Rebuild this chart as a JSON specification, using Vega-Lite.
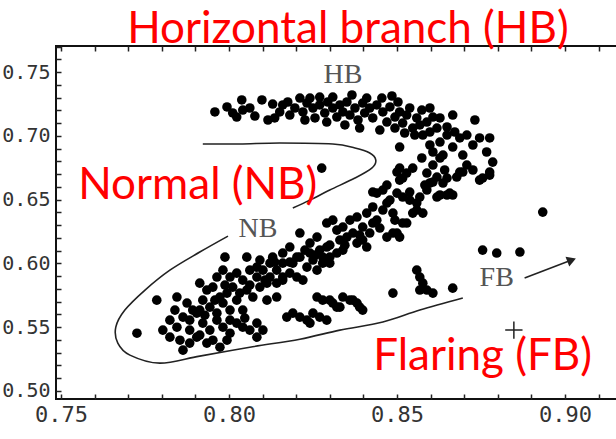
{
  "$schema": "https://vega.github.io/schema/vega-lite/v6.json",
  "width": 562,
  "height": 353,
  "autosize": {"type": "none"},
  "padding": {"left": 56, "top": 46, "right": 0, "bottom": 40},
  "background": "white",
  "config": {"view": {"stroke": "#111", "strokeWidth": 2}},
  "datasets": {
    "pts": [
      {"x":0.7958,"y":0.7187},{"x":0.8011,"y":0.7179},{"x":0.8023,"y":0.7147},{"x":0.8038,"y":0.7281},{"x":0.8041,"y":0.7202},{"x":0.8062,"y":0.7218},{"x":0.8098,"y":0.7281},{"x":0.8116,"y":0.7124},{"x":0.8151,"y":0.7187},{"x":0.8160,"y":0.7242},{"x":0.8175,"y":0.7265},{"x":0.8181,"y":0.7163},{"x":0.8196,"y":0.7218},{"x":0.8211,"y":0.7296},{"x":0.8220,"y":0.7187},{"x":0.8232,"y":0.7257},{"x":0.8241,"y":0.7296},{"x":0.8250,"y":0.7218},{"x":0.8256,"y":0.7140},{"x":0.8270,"y":0.7242},{"x":0.8285,"y":0.7179},{"x":0.8294,"y":0.7265},{"x":0.8309,"y":0.7218},{"x":0.8321,"y":0.7147},{"x":0.8330,"y":0.7242},{"x":0.8339,"y":0.7187},{"x":0.8351,"y":0.7265},{"x":0.8360,"y":0.7163},{"x":0.8375,"y":0.7218},{"x":0.8384,"y":0.7124},{"x":0.8398,"y":0.7257},{"x":0.8404,"y":0.7179},{"x":0.8419,"y":0.7218},{"x":0.8428,"y":0.7140},{"x":0.8440,"y":0.7242},{"x":0.8455,"y":0.7296},{"x":0.8458,"y":0.7187},{"x":0.8470,"y":0.7108},{"x":0.8479,"y":0.7226},{"x":0.8494,"y":0.7147},{"x":0.8503,"y":0.7265},{"x":0.8508,"y":0.7187},{"x":0.8517,"y":0.7100},{"x":0.8529,"y":0.7163},{"x":0.8538,"y":0.7218},{"x":0.8547,"y":0.7061},{"x":0.8559,"y":0.7140},{"x":0.8568,"y":0.7085},{"x":0.8574,"y":0.7202},{"x":0.8589,"y":0.7108},{"x":0.8598,"y":0.7218},{"x":0.8607,"y":0.7147},{"x":0.8619,"y":0.7061},{"x":0.8628,"y":0.7140},{"x":0.8649,"y":0.7069},{"x":0.8666,"y":0.7163},{"x":0.8672,"y":0.7030},
      {"x":0.8136,"y":0.7140},{"x":0.8345,"y":0.7085},{"x":0.8389,"y":0.7061},{"x":0.8449,"y":0.7045},{"x":0.8494,"y":0.7061},{"x":0.8523,"y":0.7022},{"x":0.8553,"y":0.7006},{"x":0.8598,"y":0.7030},{"x":0.8410,"y":0.7296},{"x":0.8485,"y":0.7312},{"x":0.8270,"y":0.7304},{"x":0.8309,"y":0.7304},{"x":0.8366,"y":0.7320},{"x":0.8226,"y":0.7124},{"x":0.8291,"y":0.7108},{"x":0.8130,"y":0.7249},{"x":0.8077,"y":0.7155},{"x":0.7994,"y":0.7226},
      {"x":0.8577,"y":0.7006},{"x":0.8598,"y":0.6928},{"x":0.8607,"y":0.6873},{"x":0.8628,"y":0.6951},{"x":0.8637,"y":0.6849},{"x":0.8649,"y":0.7006},{"x":0.8666,"y":0.6912},{"x":0.8687,"y":0.6983},{"x":0.8696,"y":0.6849},{"x":0.8708,"y":0.7006},{"x":0.8726,"y":0.6928},{"x":0.8746,"y":0.6983},{"x":0.8767,"y":0.6873},{"x":0.8776,"y":0.6983},{"x":0.8785,"y":0.6794},{"x":0.8776,"y":0.6692},{"x":0.8755,"y":0.6669},{"x":0.8508,"y":0.6912},{"x":0.8574,"y":0.6826},{"x":0.8607,"y":0.6771},{"x":0.8628,"y":0.6826},{"x":0.8732,"y":0.7124},{"x":0.8500,"y":0.6716},{"x":0.8517,"y":0.6669},{"x":0.8508,"y":0.6747},{"x":0.8547,"y":0.6747},{"x":0.8589,"y":0.6708},{"x":0.8607,"y":0.6638},{"x":0.8649,"y":0.6669},{"x":0.8687,"y":0.6716},{"x":0.8708,"y":0.6771},{"x":0.8726,"y":0.6732},{"x":0.8428,"y":0.6559},{"x":0.8470,"y":0.6614},{"x":0.8276,"y":0.6747},{"x":0.8508,"y":0.6653},{"x":0.8529,"y":0.6708},{"x":0.8619,"y":0.6677},{"x":0.8637,"y":0.6630},{"x":0.8678,"y":0.6677},{"x":0.8657,"y":0.6551},{"x":0.8696,"y":0.6716},{"x":0.8746,"y":0.6653},{"x":0.8776,"y":0.6716},
      {"x":0.8440,"y":0.6551},{"x":0.8458,"y":0.6575},{"x":0.8479,"y":0.6496},{"x":0.8500,"y":0.6551},{"x":0.8517,"y":0.6520},{"x":0.8538,"y":0.6559},{"x":0.8559,"y":0.6473},{"x":0.8568,"y":0.6520},{"x":0.8589,"y":0.6575},{"x":0.8598,"y":0.6630},{"x":0.8619,"y":0.6520},{"x":0.8649,"y":0.6536},{"x":0.8666,"y":0.6536},{"x":0.8410,"y":0.6394},{"x":0.8428,"y":0.6442},{"x":0.8440,"y":0.6339},{"x":0.8458,"y":0.6418},{"x":0.8470,"y":0.6473},{"x":0.8488,"y":0.6394},{"x":0.8517,"y":0.6316},{"x":0.8547,"y":0.6394},{"x":0.8577,"y":0.6394},{"x":0.8360,"y":0.6339},{"x":0.8381,"y":0.6363},{"x":0.8398,"y":0.6285},{"x":0.8419,"y":0.6238},{"x":0.8428,"y":0.6316},{"x":0.8470,"y":0.6206},{"x":0.8500,"y":0.6238},{"x":0.8291,"y":0.6316},{"x":0.8309,"y":0.6339},{"x":0.8321,"y":0.6261},{"x":0.8339,"y":0.6285},{"x":0.8351,"y":0.6206},{"x":0.8369,"y":0.6238},{"x":0.8381,"y":0.6159},{"x":0.8398,"y":0.6183},{"x":0.8410,"y":0.6128},{"x":0.8211,"y":0.6238},{"x":0.8241,"y":0.6159},{"x":0.8262,"y":0.6206},{"x":0.8270,"y":0.6104},{"x":0.8291,"y":0.6128},{"x":0.8300,"y":0.6049},{"x":0.8321,"y":0.6081},{"x":0.8330,"y":0.6183},{"x":0.8339,"y":0.6104},{"x":0.8160,"y":0.6081},{"x":0.8181,"y":0.6128},{"x":0.8190,"y":0.6002},{"x":0.8211,"y":0.6049},{"x":0.8232,"y":0.5971},{"x":0.8250,"y":0.6026},{"x":0.8262,"y":0.5947},{"x":0.8279,"y":0.6002},{"x":0.8083,"y":0.5971},{"x":0.8101,"y":0.5947},{"x":0.8122,"y":0.6002},{"x":0.8142,"y":0.5947},{"x":0.8160,"y":0.5893},
      {"x":0.8642,"y":0.6732},{"x":0.8583,"y":0.6614},{"x":0.8538,"y":0.6496},{"x":0.8494,"y":0.6339},{"x":0.8449,"y":0.6277},{"x":0.8389,"y":0.6222},{"x":0.8345,"y":0.6143},{"x":0.8300,"y":0.6143},{"x":0.8256,"y":0.6065},{"x":0.8226,"y":0.6104},{"x":0.8181,"y":0.6010},{"x":0.8136,"y":0.6010},{"x":0.8107,"y":0.5869},{"x":0.8062,"y":0.5830},{"x":0.7988,"y":0.5830},{"x":0.7958,"y":0.5712},{"x":0.7913,"y":0.5634},{"x":0.7883,"y":0.5477},{"x":0.7928,"y":0.5594},{"x":0.8003,"y":0.5555},{"x":0.8047,"y":0.5571},{"x":0.7839,"y":0.5634},{"x":0.7824,"y":0.5555},{"x":0.7913,"y":0.5438},
      {"x":0.7988,"y":0.6049},{"x":0.8053,"y":0.6049},{"x":0.8092,"y":0.6026},{"x":0.8130,"y":0.6049},{"x":0.8160,"y":0.6002},{"x":0.8202,"y":0.6049},{"x":0.8241,"y":0.6081},{"x":0.8279,"y":0.6049},{"x":0.8300,"y":0.6002},{"x":0.7964,"y":0.5893},{"x":0.7982,"y":0.5947},{"x":0.8003,"y":0.5893},{"x":0.8023,"y":0.5924},{"x":0.8041,"y":0.5869},{"x":0.8062,"y":0.5947},{"x":0.8083,"y":0.5893},{"x":0.8122,"y":0.5893},{"x":0.8160,"y":0.5869},{"x":0.8181,"y":0.5924},{"x":0.8202,"y":0.5893},{"x":0.8220,"y":0.5869},{"x":0.7913,"y":0.5845},{"x":0.7934,"y":0.5791},{"x":0.7952,"y":0.5814},{"x":0.7973,"y":0.5736},{"x":0.7994,"y":0.5767},{"x":0.8011,"y":0.5814},{"x":0.8032,"y":0.5767},{"x":0.8053,"y":0.5791},{"x":0.8071,"y":0.5736},{"x":0.8092,"y":0.5814},{"x":0.8113,"y":0.5845},{"x":0.8142,"y":0.5845},{"x":0.7785,"y":0.5712},{"x":0.7845,"y":0.5736},{"x":0.7875,"y":0.5689},{"x":0.7892,"y":0.5634},{"x":0.7922,"y":0.5712},{"x":0.7943,"y":0.5657},{"x":0.7964,"y":0.5610},{"x":0.7982,"y":0.5689},{"x":0.8003,"y":0.5634},{"x":0.8023,"y":0.5712},{"x":0.8041,"y":0.5634},{"x":0.8113,"y":0.5712},{"x":0.8142,"y":0.5736},{"x":0.7863,"y":0.5579},{"x":0.7883,"y":0.5555},{"x":0.7904,"y":0.5610},{"x":0.7922,"y":0.5532},{"x":0.7943,"y":0.5477},{"x":0.7964,"y":0.5555},{"x":0.7982,"y":0.5500},{"x":0.8003,"y":0.5453},{"x":0.8023,"y":0.5532},{"x":0.8041,"y":0.5500},{"x":0.8062,"y":0.5477},{"x":0.8083,"y":0.5532},{"x":0.8101,"y":0.5477},{"x":0.7803,"y":0.5477},{"x":0.7824,"y":0.5422},{"x":0.7845,"y":0.5500},{"x":0.7854,"y":0.5398},{"x":0.7883,"y":0.5375},{"x":0.7904,"y":0.5422},{"x":0.7934,"y":0.5375},{"x":0.7952,"y":0.5398},{"x":0.7973,"y":0.5343},{"x":0.7994,"y":0.5398},{"x":0.7726,"y":0.5453},{"x":0.8083,"y":0.5422},{"x":0.7863,"y":0.5320},
      {"x":0.8172,"y":0.5579},{"x":0.8190,"y":0.5610},{"x":0.8211,"y":0.5579},{"x":0.8232,"y":0.5555},{"x":0.8241,"y":0.5532},{"x":0.8250,"y":0.5610},{"x":0.8262,"y":0.5736},{"x":0.8279,"y":0.5712},{"x":0.8300,"y":0.5712},{"x":0.8321,"y":0.5657},{"x":0.8270,"y":0.5579},{"x":0.8291,"y":0.5555},{"x":0.8339,"y":0.5736},{"x":0.8360,"y":0.5712},{"x":0.8381,"y":0.5689},{"x":0.8389,"y":0.5657},{"x":0.8398,"y":0.5634},{"x":0.8488,"y":0.5767},{"x":0.8309,"y":0.5689},{"x":0.8330,"y":0.5657},{"x":0.8369,"y":0.5712},
      {"x":0.8559,"y":0.5947},{"x":0.8568,"y":0.5893},{"x":0.8577,"y":0.5845},{"x":0.8568,"y":0.5791},{"x":0.8589,"y":0.5791},{"x":0.8607,"y":0.5767},{"x":0.8666,"y":0.5806},{"x":0.8755,"y":0.6104},{"x":0.8797,"y":0.6081},{"x":0.8866,"y":0.6089},{"x":0.8934,"y":0.6402},
      {"x":0.8628,"y":0.6536},{"x":0.8559,"y":0.6418},{"x":0.8529,"y":0.6316},{"x":0.8508,"y":0.6206},{"x":0.8488,"y":0.6238}
    ],
    "curve": [
      {"seg":"a","o":1,"x":0.7922,"y":0.6936},{"seg":"a","o":2,"x":0.8032,"y":0.6936},{"seg":"a","o":3,"x":0.8151,"y":0.6944},{"seg":"a","o":4,"x":0.8309,"y":0.6936},{"seg":"a","o":5,"x":0.8375,"y":0.6904},{"seg":"a","o":6,"x":0.8419,"y":0.6865},{"seg":"a","o":7,"x":0.8437,"y":0.6810},{"seg":"a","o":8,"x":0.8425,"y":0.6747},{"seg":"a","o":9,"x":0.8375,"y":0.6669},{"seg":"a","o":10,"x":0.8300,"y":0.6575},{"seg":"a","o":11,"x":0.8241,"y":0.6496},{"seg":"a","o":12,"x":0.8190,"y":0.6434},
      {"seg":"b","o":1,"x":0.7997,"y":0.6214},{"seg":"b","o":2,"x":0.7913,"y":0.6089},{"seg":"b","o":3,"x":0.7824,"y":0.5947},{"seg":"b","o":4,"x":0.7750,"y":0.5791},{"seg":"b","o":5,"x":0.7690,"y":0.5634},{"seg":"b","o":6,"x":0.7663,"y":0.5500},{"seg":"b","o":7,"x":0.7669,"y":0.5375},{"seg":"b","o":8,"x":0.7705,"y":0.5281},{"seg":"b","o":9,"x":0.7794,"y":0.5218},{"seg":"b","o":10,"x":0.7913,"y":0.5273},{"seg":"b","o":11,"x":0.8062,"y":0.5343},{"seg":"b","o":12,"x":0.8211,"y":0.5406},{"seg":"b","o":13,"x":0.8330,"y":0.5477},{"seg":"b","o":14,"x":0.8458,"y":0.5540},{"seg":"b","o":15,"x":0.8568,"y":0.5634},{"seg":"b","o":16,"x":0.8696,"y":0.5728}
    ],
    "arrow": [{"o":1,"x":0.8880,"y":0.5885},{"o":2,"x":0.9020,"y":0.6026}],
    "head": [{"x":0.9020,"y":0.6026}],
    "plus": [{"x":0.8848,"y":0.5477}],
    "scanlabels": [
      {"label":"HB","x":0.8339,"y":0.7477},
      {"label":"NB","x":0.8086,"y":0.6269},
      {"label":"FB","x":0.8797,"y":0.5885}
    ],
    "notes": [
      {"label":"Horizontal branch (HB)","x":0.8354,"y":0.7830},
      {"label":"Normal (NB)","x":0.7907,"y":0.6606},
      {"label":"Flaring (FB)","x":0.8755,"y":0.5265}
    ]
  },
  "resolve": {"axis": {"x": "independent", "y": "independent"}},
  "layer": [
    {
      "data": {"name": "pts"},
      "mark": {"type": "point", "filled": true, "shape": "circle", "color": "black", "size": 92, "opacity": 1},
      "encoding": {
        "x": {"field": "x", "type": "quantitative", "scale": {"domain": [0.7485, 0.9158], "nice": false, "zero": false},
          "axis": {"orient": "bottom", "title": null, "grid": false, "domain": false, "offset": -5,
            "values": [0.75,0.76,0.77,0.78,0.79,0.80,0.81,0.82,0.83,0.84,0.85,0.86,0.87,0.88,0.89,0.90,0.91],
            "labelExpr": "(round(datum.value*100)%5==0) ? format(datum.value,'.2f') : ''",
            "tickSize": 5, "tickColor": "#222", "tickWidth": 1.5,
            "labelFont": "DejaVu Sans Mono", "labelFontSize": 22, "labelColor": "#333", "labelPadding": 5, "labelBaseline": "top", "labelFlush": false, "labelOverlap": false}},
        "y": {"field": "y", "type": "quantitative", "scale": {"domain": [0.4937, 0.7704], "nice": false, "zero": false},
          "axis": {"orient": "left", "title": null, "grid": false, "domain": false, "offset": -5,
            "values": [0.50,0.51,0.52,0.53,0.54,0.55,0.56,0.57,0.58,0.59,0.60,0.61,0.62,0.63,0.64,0.65,0.66,0.67,0.68,0.69,0.70,0.71,0.72,0.73,0.74,0.75,0.76,0.77],
            "labelExpr": "(round(datum.value*100)%5==0) ? format(datum.value,'.2f') : ''",
            "tickSize": 5, "tickColor": "#222", "tickWidth": 1.5,
            "labelFont": "DejaVu Sans Mono", "labelFontSize": 20, "labelColor": "#333", "labelPadding": 6, "labelFlush": false, "labelOverlap": false}}
      }
    },
    {
      "data": {"name": "curve"},
      "mark": {"type": "line", "color": "#222", "strokeWidth": 1.6, "interpolate": "cardinal"},
      "encoding": {
        "x": {"field": "x", "type": "quantitative",
          "axis": {"orient": "top", "title": null, "grid": false, "labels": false, "domain": false, "offset": -5,
            "values": [0.75,0.76,0.77,0.78,0.79,0.80,0.81,0.82,0.83,0.84,0.85,0.86,0.87,0.88,0.89,0.90,0.91],
            "tickSize": 5, "tickColor": "#222", "tickWidth": 1.5}},
        "y": {"field": "y", "type": "quantitative", "axis": null},
        "detail": {"field": "seg"},
        "order": {"field": "o"}
      }
    },
    {
      "data": {"name": "arrow"},
      "mark": {"type": "line", "color": "#222", "strokeWidth": 1.6},
      "encoding": {
        "x": {"field": "x", "type": "quantitative", "axis": null},
        "y": {"field": "y", "type": "quantitative", "axis": null},
        "order": {"field": "o"}
      }
    },
    {
      "data": {"name": "head"},
      "mark": {"type": "point", "shape": "triangle-right", "filled": true, "color": "#222", "size": 110, "angle": 339, "opacity": 1},
      "encoding": {
        "x": {"field": "x", "type": "quantitative", "axis": null},
        "y": {"field": "y", "type": "quantitative", "axis": null}
      }
    },
    {
      "data": {"name": "plus"},
      "mark": {"type": "point", "shape": "M-1,0L1,0M0,-1L0,1", "filled": false, "stroke": "#222", "strokeWidth": 1.5, "size": 300, "opacity": 1},
      "encoding": {
        "x": {"field": "x", "type": "quantitative", "axis": null},
        "y": {"field": "y", "type": "quantitative", "axis": null}
      }
    },
    {
      "data": {"name": "scanlabels"},
      "mark": {"type": "text", "font": "Liberation Serif", "fontSize": 28, "color": "#555", "align": "center", "baseline": "middle"},
      "encoding": {
        "x": {"field": "x", "type": "quantitative", "axis": null},
        "y": {"field": "y", "type": "quantitative", "axis": null},
        "text": {"field": "label"}
      }
    },
    {
      "data": {"name": "notes"},
      "mark": {"type": "text", "font": "Lato", "fontSize": 44, "color": "#ff0000", "align": "center", "baseline": "middle"},
      "encoding": {
        "x": {"field": "x", "type": "quantitative", "axis": null},
        "y": {"field": "y", "type": "quantitative", "axis": null},
        "text": {"field": "label"}
      }
    }
  ]
}
